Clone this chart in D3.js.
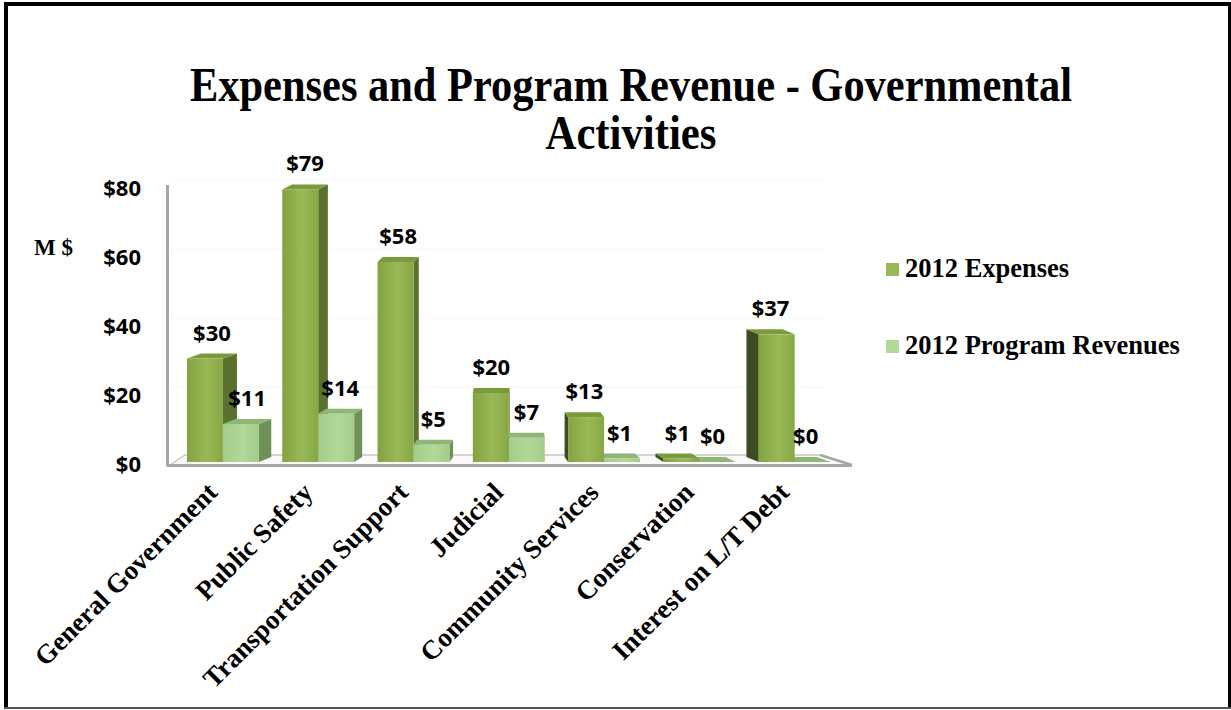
<!DOCTYPE html>
<html>
<head>
<meta charset="utf-8">
<script src="https://cdn.jsdelivr.net/npm/d3@7"></script>
<style>
  body { margin: 0; background: #fff; }
  svg { display: block; }
</style>
</head>
<body>
<div id="container"></div>
<script>
/* DATA */
const categories = ["General Government", "Public Safety", "Transportation Support", "Judicial",
  "Community Services", "Conservation", "Interest on L/T Debt"];
const series = ["2012 Expenses", "2012 Program Revenues"];
const expenses = [30, 79, 58, 20, 13, 1, 37];
const revenues = [11, 14, 5, 7, 1, 0, 0];
const yTicks = [0, 20, 40, 60, 80];

/* CONSTANTS */
const width = 1231;
const height = 710;
const vanishX = 510;   // bars left of this show their right side, right of it their left side
const depthK = 0.046;
const depthY = -5;

const colors = {
  "2012 Expenses": { front: ["#82a340", "#99b957", "#86a743"], side: "#5a7130", top: "#7b9a3c", sideL: "#3c4b20" },
  "2012 Program Revenues": { front: ["#a3cc88", "#b2d89a", "#a3cc88"], side: "#6e9158", top: "#8fb676", sideL: "#6e9158" }
};

const svg = d3.select("#container")
  .append("svg")
  .attr("width", width)
  .attr("height", height);

const defs = svg.append("defs");
series.forEach((s, i) => {
  const g = defs.append("linearGradient").attr("id", "grad" + i).attr("x1", 0).attr("x2", 1).attr("y1", 0).attr("y2", 0);
  g.append("stop").attr("offset", "0%").attr("stop-color", colors[s].front[0]);
  g.append("stop").attr("offset", "55%").attr("stop-color", colors[s].front[1]);
  g.append("stop").attr("offset", "100%").attr("stop-color", colors[s].front[2]);
});

/* SCALES */
const xScale = d3.scaleBand()
  .domain(categories)
  .range([163.6, 854])
  .paddingInner(0.245)
  .paddingOuter(0.245);

const xSub = d3.scaleBand()
  .domain(series)
  .range([0, xScale.bandwidth()]);

const yScale = d3.scaleLinear()
  .domain([0, 80])
  .range([462, 186]);

// frame
svg.append("rect").attr("x", 0).attr("y", 0).attr("width", width).attr("height", height).attr("fill", "#fff");
svg.append("line").attr("x1", 6).attr("x2", 6).attr("y1", 2).attr("y2", 709).attr("stroke", "#000").attr("stroke-width", 4);
svg.append("line").attr("x1", 4).attr("x2", 1231).attr("y1", 4).attr("y2", 4).attr("stroke", "#000").attr("stroke-width", 4);
svg.append("line").attr("x1", 1229.5).attr("x2", 1229.5).attr("y1", 2).attr("y2", 709).attr("stroke", "#000").attr("stroke-width", 3);
svg.append("line").attr("x1", 4).attr("x2", 1231).attr("y1", 708).attr("y2", 708).attr("stroke", "#555").attr("stroke-width", 2);

// title
const title = svg.append("g")
  .attr("font-family", "'Liberation Serif', 'Times New Roman', serif")
  .attr("font-weight", "bold")
  .attr("font-size", 48)
  .attr("text-anchor", "middle");
title.append("text").attr("x", 631).attr("y", 101)
  .attr("textLength", 882).attr("lengthAdjust", "spacingAndGlyphs")
  .text("Expenses and Program Revenue - Governmental");
title.append("text").attr("x", 631).attr("y", 149)
  .attr("textLength", 171).attr("lengthAdjust", "spacingAndGlyphs")
  .text("Activities");

// back wall gridlines
svg.append("g").selectAll("line")
  .data(yTicks.slice(1))
  .join("line")
  .attr("x1", 172).attr("x2", 822)
  .attr("y1", d => yScale(d) - 6).attr("y2", d => yScale(d) - 6)
  .attr("stroke", "#f0f0f0").attr("stroke-width", 1).attr("stroke-dasharray", "2,2");

// floor
svg.append("path")
  .attr("d", "M170,465 L185,455 L820,455 L852,465 Z")
  .attr("fill", "#fafafa").attr("stroke", "#c8c8c8").attr("stroke-width", 1.5);
svg.append("line").attr("x1", 167).attr("x2", 852).attr("y1", 465.5).attr("y2", 465.5)
  .attr("stroke", "#a6a6a6").attr("stroke-width", 3);
svg.append("line").attr("x1", 820).attr("x2", 852).attr("y1", 455).attr("y2", 465)
  .attr("stroke", "#a6a6a6").attr("stroke-width", 2.5);

// y axis
svg.append("line").attr("x1", 167.5).attr("x2", 167.5).attr("y1", 185).attr("y2", 466)
  .attr("stroke", "#a6a6a6").attr("stroke-width", 3);

const yAxis = d3.axisLeft(yScale).tickValues(yTicks).tickFormat(d => "$" + d).tickSize(0).tickPadding(0);
const yG = svg.append("g").attr("transform", "translate(141,2)").call(yAxis);
yG.select(".domain").remove();
yG.selectAll("text")
  .attr("font-family", "'Open Sans', sans-serif")
  .attr("font-weight", "bold")
  .attr("font-size", 22)
  .attr("fill", "#000");

svg.append("text")
  .attr("x", 34).attr("y", 255)
  .attr("font-family", "'Liberation Serif', serif")
  .attr("font-weight", "bold")
  .attr("font-size", 23)
  .text("M $");

/* BARS */
const bars = [];
categories.forEach((c, i) => {
  [expenses[i], revenues[i]].forEach((v, j) => {
    const s = series[j];
    const x = xScale(c) + xSub(s);
    const w = xSub.bandwidth();
    const cx = x + w / 2;
    bars.push({ c, s, j, v, x, w, cx, dx: depthK * (vanishX - cx) });
  });
});
// farthest from the vanishing line first
bars.sort((a, b) => Math.abs(b.cx - vanishX) - Math.abs(a.cx - vanishX));

const barG = svg.append("g");
bars.forEach(b => {
  const g = barG.append("g");
  const y0 = yScale(0);
  const y1 = yScale(b.v);
  const dx = b.dx, dy = depthY;
  const xr = b.x + b.w;
  // side
  if (dx > 0) {
    g.append("path")
      .attr("d", `M${xr},${y0} L${xr + dx},${y0 + dy} L${xr + dx},${y1 + dy} L${xr},${y1} Z`)
      .attr("fill", colors[b.s].side);
  } else {
    g.append("path")
      .attr("d", `M${b.x},${y0} L${b.x + dx},${y0 + dy} L${b.x + dx},${y1 + dy} L${b.x},${y1} Z`)
      .attr("fill", colors[b.s].sideL);
  }
  // top
  g.append("path")
    .attr("d", `M${b.x},${y1} L${xr},${y1} L${xr + dx},${y1 + dy} L${b.x + dx},${y1 + dy} Z`)
    .attr("fill", colors[b.s].top);
  // front
  g.append("rect")
    .attr("x", b.x).attr("y", y1)
    .attr("width", b.w).attr("height", Math.max(0, y0 - y1))
    .attr("fill", `url(#grad${b.j})`);
});

/* VALUE LABELS */
svg.append("g").selectAll("text")
  .data(bars)
  .join("text")
  .attr("x", d => d.cx + d.dx / 2)
  .attr("y", d => yScale(d.v) + depthY - 13)
  .attr("text-anchor", "middle")
  .attr("font-family", "'Open Sans', sans-serif")
  .attr("font-weight", "bold")
  .attr("font-size", 22)
  .text(d => "$" + d.v);

/* CATEGORY LABELS */
svg.append("g").selectAll("text")
  .data(categories)
  .join("text")
  .attr("transform", d => `translate(${xScale(d) + xScale.bandwidth() / 2 - 4},494) rotate(-45)`)
  .attr("text-anchor", "end")
  .attr("font-family", "'Liberation Serif', serif")
  .attr("font-weight", "bold")
  .attr("font-size", 27)
  .text(d => d);

/* LEGEND */
const legend = svg.append("g").selectAll("g")
  .data(series)
  .join("g")
  .attr("transform", (d, i) => `translate(886,${263 + i * 77})`);
legend.append("rect")
  .attr("width", 13).attr("height", 13)
  .attr("fill", d => colors[d].front[1]);
legend.append("text")
  .attr("x", 19).attr("y", 14)
  .attr("font-family", "'Liberation Serif', serif")
  .attr("font-weight", "bold")
  .attr("font-size", 26.5)
  .text(d => d);
</script>
</body>
</html>
